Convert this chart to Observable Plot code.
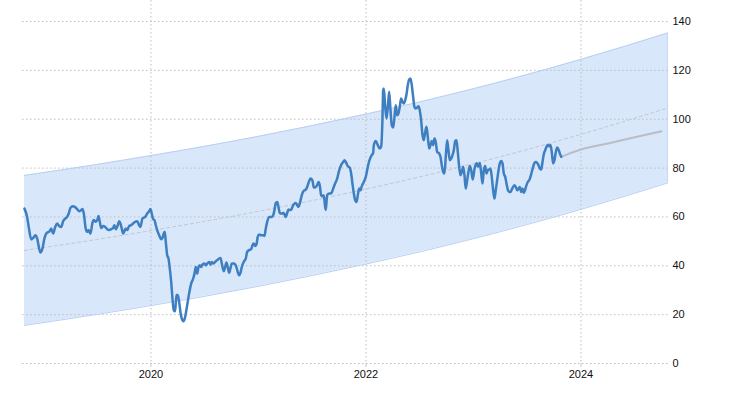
<!DOCTYPE html>
<html><head><meta charset="utf-8">
<script src="https://cdn.jsdelivr.net/npm/d3@7"></script>
<script src="https://cdn.jsdelivr.net/npm/@observablehq/plot@0.6"></script>
<style>html,body{margin:0;padding:0;background:#fff;}</style>
</head><body><div id="chart"></div>
<script>
const histYears = [2018.823,2018.848,2018.863,2018.886,2018.904,2018.926,2018.941,2018.960,2018.972,2018.991,
2019.009,2019.034,2019.053,2019.072,2019.090,2019.109,2019.127,2019.146,2019.165,2019.183,
2019.205,2019.220,2019.235,2019.251,2019.273,2019.291,2019.314,2019.332,2019.351,2019.363,
2019.375,2019.393,2019.407,2019.419,2019.437,2019.456,2019.468,2019.487,2019.500,2019.512,
2019.524,2019.537,2019.555,2019.574,2019.593,2019.611,2019.630,2019.648,2019.660,2019.673,
2019.691,2019.704,2019.716,2019.728,2019.741,2019.753,2019.766,2019.779,2019.797,2019.816,
2019.834,2019.853,2019.872,2019.890,2019.902,2019.921,2019.946,2019.965,2019.983,2019.995,
2020.007,2020.020,2020.033,2020.045,2020.058,2020.076,2020.095,2020.107,2020.119,2020.128,
2020.138,2020.151,2020.163,2020.175,2020.188,2020.200,2020.212,2020.225,2020.237,2020.249,
2020.262,2020.274,2020.293,2020.305,2020.318,2020.337,2020.355,2020.374,2020.393,2020.405,
2020.417,2020.430,2020.442,2020.454,2020.467,2020.479,2020.498,2020.510,2020.523,2020.541,
2020.553,2020.566,2020.579,2020.597,2020.616,2020.634,2020.647,2020.659,2020.677,2020.690,
2020.702,2020.714,2020.727,2020.740,2020.752,2020.770,2020.789,2020.807,2020.820,2020.833,
2020.845,2020.863,2020.882,2020.895,2020.913,2020.932,2020.944,2020.956,2020.969,2020.981,
2020.993,2021.007,2021.025,2021.044,2021.056,2021.068,2021.081,2021.100,2021.124,2021.137,
2021.149,2021.161,2021.174,2021.186,2021.198,2021.217,2021.235,2021.254,2021.267,2021.279,
2021.291,2021.304,2021.316,2021.328,2021.347,2021.360,2021.372,2021.384,2021.403,2021.421,
2021.440,2021.453,2021.472,2021.484,2021.502,2021.514,2021.533,2021.546,2021.558,2021.570,
2021.583,2021.595,2021.607,2021.620,2021.626,2021.639,2021.658,2021.676,2021.695,2021.713,
2021.732,2021.751,2021.769,2021.788,2021.800,2021.812,2021.831,2021.849,2021.862,2021.874,
2021.887,2021.900,2021.912,2021.924,2021.937,2021.949,2021.961,2021.980,2021.998,2022.011,
2022.030,2022.048,2022.067,2022.073,2022.091,2022.110,2022.128,2022.141,2022.153,2022.160,
2022.166,2022.179,2022.191,2022.203,2022.216,2022.228,2022.240,2022.253,2022.265,2022.277,
2022.290,2022.302,2022.314,2022.327,2022.340,2022.352,2022.365,2022.377,2022.389,2022.402,
2022.414,2022.426,2022.439,2022.451,2022.463,2022.476,2022.488,2022.500,2022.513,2022.526,
2022.538,2022.551,2022.563,2022.575,2022.588,2022.600,2022.612,2022.625,2022.637,2022.649,
2022.662,2022.681,2022.693,2022.705,2022.718,2022.730,2022.742,2022.755,2022.767,2022.780,
2022.793,2022.805,2022.817,2022.830,2022.842,2022.854,2022.867,2022.879,2022.891,2022.904,
2022.916,2022.928,2022.941,2022.953,2022.966,2022.979,2022.993,2023.011,2023.030,2023.042,
2023.059,2023.072,2023.084,2023.096,2023.109,2023.121,2023.133,2023.146,2023.158,2023.170,
2023.183,2023.195,2023.207,2023.220,2023.233,2023.245,2023.258,2023.270,2023.282,2023.295,
2023.307,2023.319,2023.332,2023.344,2023.356,2023.369,2023.381,2023.393,2023.407,2023.419,
2023.431,2023.444,2023.456,2023.468,2023.481,2023.493,2023.505,2023.518,2023.530,2023.542,
2023.555,2023.567,2023.580,2023.593,2023.605,2023.617,2023.630,2023.642,2023.654,2023.667,
2023.679,2023.691,2023.704,2023.716,2023.728,2023.741,2023.753,2023.766,2023.779,2023.791,
2023.803,2023.816];
const histPrices = [63.4,60.0,55.9,50.8,51.4,52.5,51.2,47.1,45.4,47.1,
51.2,53.6,53.9,55.3,53.2,55.9,57.3,56.3,55.9,58.2,
59.4,60.0,61.4,63.7,64.4,64.1,63.2,62.3,62.8,63.2,
61.4,55.3,53.9,54.6,53.2,57.7,58.7,58.0,58.7,60.4,
58.0,55.5,56.3,55.9,55.0,54.7,55.0,55.5,56.6,55.0,
56.6,58.2,57.3,55.3,53.2,54.2,55.3,54.6,56.3,56.6,
57.3,58.0,58.2,56.6,55.9,59.4,60.0,61.4,62.3,63.2,
61.4,59.1,58.7,56.6,54.6,52.5,50.9,51.4,53.2,53.9,
49.8,44.3,43.0,38.9,33.4,26.6,21.8,21.4,28.0,28.0,
25.2,21.1,17.7,17.3,19.1,23.9,28.7,32.7,34.8,36.8,
39.5,36.8,39.5,40.2,39.5,40.5,40.9,40.2,40.9,41.6,
40.5,41.6,40.9,41.6,42.3,43.0,43.2,40.9,37.8,39.5,
41.3,39.5,37.2,39.1,40.9,40.9,40.2,37.5,36.1,37.2,
39.5,41.6,43.0,45.7,46.4,46.8,48.4,49.1,48.1,48.7,
51.8,52.8,52.5,52.5,52.2,55.3,58.0,60.0,60.0,60.7,
62.8,65.7,66.1,64.1,61.6,61.4,61.6,60.0,61.6,63.0,
62.8,63.0,64.1,65.2,65.7,64.8,64.1,65.5,68.9,70.7,
71.2,72.3,74.7,75.7,75.0,72.0,72.3,73.0,74.3,73.0,
68.9,68.5,68.9,64.1,62.8,68.9,69.6,69.6,71.6,73.7,
75.7,79.1,81.2,82.5,83.2,82.5,80.8,80.2,77.8,73.7,
69.6,66.8,66.1,68.9,71.6,70.9,72.6,74.3,76.4,79.1,
82.9,84.9,86.2,89.4,91.1,89.4,88.0,88.7,99.6,111.9,
112.6,105.0,100.3,105.0,111.2,103.7,97.5,96.6,100.9,105.7,
101.6,102.3,105.0,108.5,107.1,106.4,107.8,110.2,113.9,116.3,
116.7,113.9,109.1,105.0,104.4,104.8,105.3,103.7,99.6,93.5,
91.4,94.8,96.9,92.8,88.0,89.4,91.1,89.4,92.1,90.7,
86.6,86.0,84.6,81.2,78.4,77.8,84.6,91.4,87.3,83.2,
83.9,85.3,87.3,91.1,91.4,86.6,80.5,77.1,78.4,80.5,
77.1,71.6,75.0,78.4,80.8,79.1,75.3,80.0,82.0,80.5,
82.1,77.8,73.7,79.1,80.8,77.8,79.1,79.4,79.8,76.4,
70.9,67.5,70.9,75.0,79.1,81.9,82.9,81.9,77.8,76.4,
73.7,71.2,70.2,70.2,71.2,72.3,73.0,72.3,70.9,71.6,
72.3,70.2,71.6,69.8,71.2,73.0,74.3,75.0,76.4,78.4,
80.5,82.1,82.5,82.1,81.2,79.8,79.4,82.5,85.7,87.3,
88.7,89.4,88.9,89.4,86.6,81.9,83.2,86.6,88.4,87.6,
86.0,84.6];
const forecastYears = [2023.816, 2024.0, 2024.25, 2024.5, 2024.75];
const forecastPrices = [84.6, 87.6, 90.1, 92.6, 95.1];
const bandYears = [2018.823, 2019.5, 2020, 2020.5, 2021, 2021.5, 2022, 2022.5, 2023, 2023.5, 2024, 2024.805];
const bandUpper = [77.0, 81.5, 85.1, 88.9, 93.0, 97.4, 102.1, 107.1, 112.5, 118.3, 124.5, 135.3];
const bandMid   = [46.3, 50.8, 54.4, 58.2, 62.3, 66.7, 71.4, 76.4, 81.8, 87.6, 93.8, 104.6];
const bandLower = [15.6, 20.1, 23.7, 27.5, 31.6, 36.0, 40.7, 45.7, 51.1, 56.9, 63.1, 73.9];
const xTicks = [2020, 2022, 2024];
const yTicks = [0, 20, 40, 60, 80, 100, 120, 140];

const hist = histYears.map((t, i) => ({t, v: histPrices[i]}));
const fc = forecastYears.map((t, i) => ({t, v: forecastPrices[i]}));
const band = bandYears.map((t, i) => ({t, hi: bandUpper[i], mid: bandMid[i], lo: bandLower[i]}));

const chart = Plot.plot({
  width: 730,
  height: 400,
  marginLeft: 22,
  marginRight: 62,
  marginTop: 0,
  marginBottom: 37,
  style: {fontFamily: "'Liberation Sans', Arial, sans-serif", fontSize: "11px", color: "#111", background: "#fff"},
  x: {type: "linear", domain: [2018.805, 2024.814]},
  y: {domain: [0, 148.6]},
  marks: [
    Plot.areaY(band, {x: "t", y1: "lo", y2: "hi", fill: "#d9e7fb", curve: "monotone-x"}),
    Plot.gridY(yTicks, {stroke: "#bdbdbd", strokeOpacity: 1, strokeDasharray: "1.5,2.5"}),
    Plot.gridX(xTicks, {stroke: "#bdbdbd", strokeOpacity: 1, strokeDasharray: "1.5,2.5"}),
    Plot.line(band, {x: "t", y: "hi", stroke: "#b8d0f3", strokeWidth: 1, curve: "monotone-x"}),
    Plot.line(band, {x: "t", y: "lo", stroke: "#b8d0f3", strokeWidth: 1, curve: "monotone-x"}),
    Plot.ruleX([bandYears[bandYears.length - 1]], {y1: bandLower[bandLower.length - 1], y2: bandUpper[bandUpper.length - 1], stroke: "#c5d8f3", strokeWidth: 1}),
    Plot.line(band, {x: "t", y: "mid", stroke: "#c2c6cc", strokeWidth: 1, strokeDasharray: "3,3", curve: "monotone-x"}),
    Plot.line(fc, {x: "t", y: "v", stroke: "#b9bec6", strokeWidth: 2, curve: "monotone-x"}),
    Plot.line(hist, {x: "t", y: "v", stroke: "#3d7fc0", strokeWidth: 2.5, curve: "monotone-x"}),
    Plot.axisY(yTicks, {anchor: "right", tickSize: 0, tickPadding: 4, label: null}),
    Plot.axisX(xTicks, {anchor: "bottom", tickSize: 4, tickPadding: 3, stroke: "#c8c8c8", tickFormat: d => String(d), label: null})
  ]
});
document.getElementById("chart").appendChild(chart);
</script>
</body></html>
